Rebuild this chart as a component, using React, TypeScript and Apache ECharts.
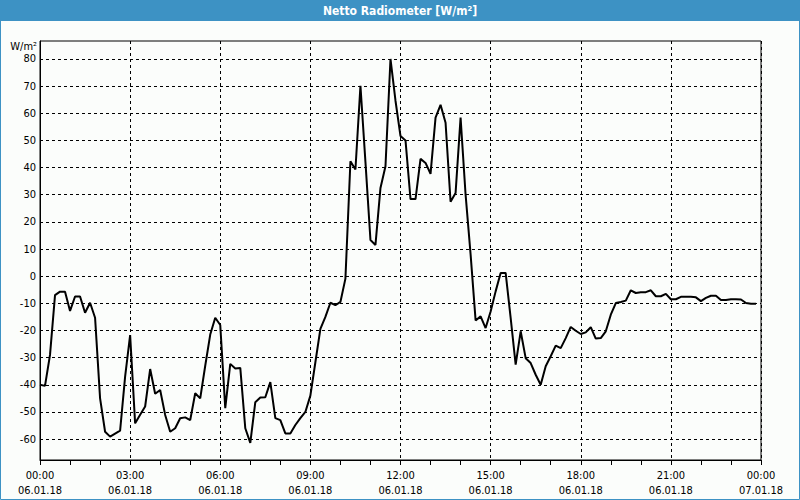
import React, { useEffect, useRef } from "react";
import * as echarts from "echarts";

const TITLE = "Netto Radiometer [W/m²]";
const UNIT = "W/m²";
const STEP_MINUTES = 10;
const X_TICK_HOURS = [0, 3, 6, 9, 12, 15, 18, 21, 24];
const Y_TICKS = [-60, -50, -40, -30, -20, -10, 0, 10, 20, 30, 40, 50, 60, 70, 80];

// Values every 10 minutes from 00:00 06.01.18
const VALUES = [
  -40, -40.4, -29, -7, -5.7, -5.7, -12.8, -7.5, -7.5, -13.5, -9.8, -15.3,
  -45, -57.3, -59.1, -58, -56.9, -37, -21.7, -54.2, -51, -48, -34.2, -43.3,
  -41.9, -51.1, -57.3, -56, -52.3, -52, -53, -43.1, -45, -33, -21.5, -15.3,
  -18, -48.6, -32.3, -34, -33.8, -56, -61.4, -46.4, -44.7, -44.6, -39, -52.3,
  -53, -57.9, -57.9, -54.8, -52.3, -50, -44, -31.7, -19.4, -15, -9.8, -10.7,
  -9.5, -0.9, 42.3, 39.3, 70.1, 42, 13.3, 11.5, 32.5, 40.5, 80, 64.6,
  51.6, 50, 28.4, 28.4, 43.2, 41.7, 37.7, 58.4, 63.1, 56.5, 27.4, 30.6,
  58.4, 30, 8, -16.3, -14.8, -19.1, -13, -5.6, 1.2, 1.2, -15.4, -32.6,
  -20.3, -30.2, -32, -36.3, -40, -33.2, -29.5, -25.6, -26.5, -22.8, -18.7, -20.1,
  -21.3, -20.7, -18.8, -23, -22.8, -20.3, -14.2, -9.9, -9.5, -9, -5.2, -6.2,
  -5.9, -5.9, -5.2, -7.4, -7.4, -6.5, -8.5, -8.5, -7.6, -7.6, -7.6, -7.8,
  -9.2, -8, -7.2, -7.2, -8.8, -8.8, -8.5, -8.5, -8.6, -9.9, -10.2, -10.2,
];

const FONT = "'DejaVu Sans Condensed', 'DejaVu Sans', sans-serif";
const BLUE = "#3d92c4";

function fmtX(v: number): string {
  const h = Math.round(v) % 24;
  const date = v >= 24 ? "07.01.18" : "06.01.18";
  return `${String(h).padStart(2, "0")}:00\n${date}`;
}

export default function App() {
  const ref = useRef<HTMLDivElement>(null);
  useEffect(() => {
    if (!ref.current) return;
    const chart = echarts.init(ref.current, undefined, { renderer: "svg" });
    const data = VALUES.map((v, i) => [(i * STEP_MINUTES) / 60, v]);
    chart.setOption({
      animation: false,
      backgroundColor: "#fbfdfb",
      textStyle: { fontFamily: FONT },
      graphic: [
        { type: "rect", shape: { x: 0, y: 0, width: 800, height: 21 }, style: { fill: BLUE }, z: 10 },
        {
          type: "rect",
          shape: { x: 0.5, y: 0.5, width: 799, height: 499 },
          style: { fill: "none", stroke: BLUE, lineWidth: 1 },
          z: 10,
        },
        {
          type: "text",
          x: 400,
          y: 11,
          z: 11,
          style: {
            text: TITLE,
            fill: "#fff",
            font: `bold 12px ${FONT}`,
            textAlign: "center",
            textVerticalAlign: "middle",
          },
        },
        {
          type: "text",
          x: 37,
          y: 46,
          z: 11,
          style: {
            text: UNIT,
            fill: "#000",
            font: `11px ${FONT}`,
            textAlign: "right",
            textVerticalAlign: "middle",
          },
        },
      ],
      grid: {
        left: 40,
        right: 39,
        top: 41,
        bottom: 40,
        show: true,
        borderColor: "#000",
        borderWidth: 1,
        backgroundColor: "transparent",
      },
      xAxis: {
        type: "value",
        min: 0,
        max: 24,
        interval: 3,
        axisLine: { show: true, onZero: false, lineStyle: { color: "#000", width: 1 } },
        axisTick: { show: true, length: 5, lineStyle: { color: "#000" } },
        minorTick: { show: true, splitNumber: 3, length: 5, lineStyle: { color: "#000" } },
        axisLabel: {
          color: "#000",
          fontSize: 11,
          fontFamily: FONT,
          lineHeight: 15,
          margin: 8,
          formatter: (v: number) => (X_TICK_HOURS.includes(v) ? fmtX(v) : ""),
        },
        splitLine: { show: true, lineStyle: { color: "#000", type: [3, 3], width: 1 } },
      },
      yAxis: {
        type: "value",
        min: -67.7,
        max: 86.6,
        axisLine: { show: true, onZero: false, lineStyle: { color: "#000", width: 1 } },
        axisTick: { show: false, customValues: Y_TICKS },
        axisLabel: {
          color: "#000",
          fontSize: 11,
          fontFamily: FONT,
          margin: 4,
          customValues: Y_TICKS,
        },
        splitLine: { show: true, lineStyle: { color: "#000", type: [3, 3], width: 1 } },
      },
      series: [
        {
          type: "line",
          data,
          showSymbol: false,
          symbol: "none",
          lineStyle: { color: "#000", width: 2 },
        },
      ],
    });
    return () => chart.dispose();
  }, []);
  return (
    <div
      ref={ref}
      style={{ position: "fixed", left: 0, top: 0, width: 800, height: 500 }}
    />
  );
}
